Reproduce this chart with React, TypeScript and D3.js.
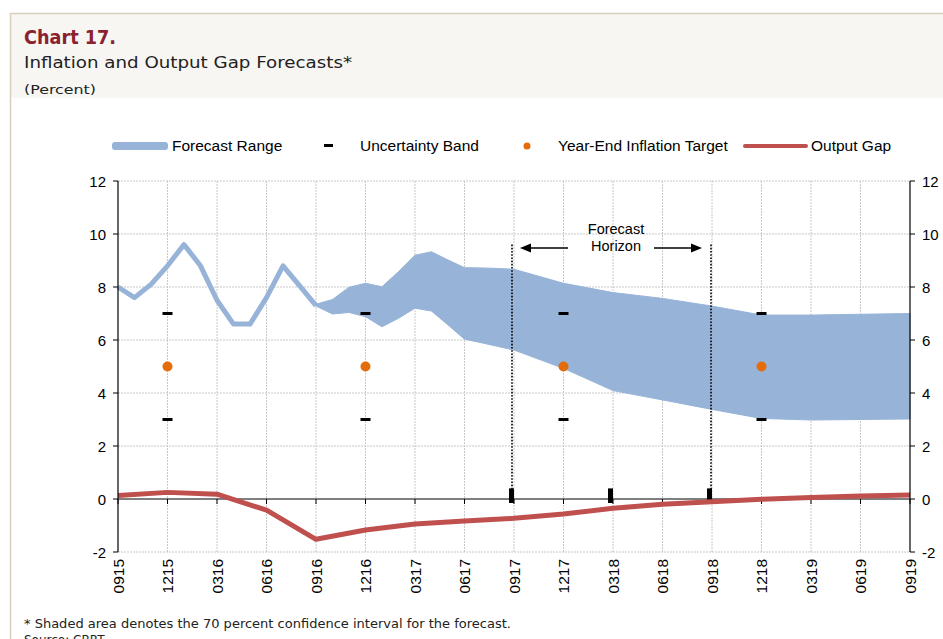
import React from "react";
import * as d3 from "d3";

// ---------- data ----------
const quarterLabels = ["0915","1215","0316","0616","0916","1216","0317","0617","0917","1217","0318","0618","0918","1218","0319","0619","0919"];
// monthly inflation history (month index 0 = 09/15)
const histMonths = [0,1,2,3,4,5,6,7,8,9,10,11,12];
const histInflation = [8.0,7.6,8.1,8.8,9.6,8.8,7.5,6.6,6.6,7.6,8.8,8.05,7.3];
// forecast range
const bandMonths = [12,13,14,15,16,17,18,19,20,21,22,23,24,27,30,33,36,39,42,45,48];
const bandUpper = [7.35,7.53,7.99,8.14,8.01,8.58,9.2,9.33,9.02,8.73,8.72,8.7,8.67,8.14,7.79,7.57,7.28,6.94,6.94,6.97,7.0];
const bandLower = [7.28,6.98,7.04,6.88,6.5,6.82,7.2,7.09,6.57,6.03,5.9,5.76,5.62,4.93,4.09,3.74,3.38,3.04,2.98,3.0,3.02];
// year-end targets and uncertainty band
const targetMonths = [3,15,27,39];
const targetValues = [5,5,5,5];
const uncUpper = [7,7,7,7];
const uncLower = [3,3,3,3];
// output gap (quarterly)
const outputGap = [0.13,0.25,0.18,-0.42,-1.52,-1.17,-0.94,-0.83,-0.73,-0.57,-0.35,-0.2,-0.1,-0.01,0.06,0.11,0.15];
// horizon markers
const horizonMarkMonths = [24,30,36];
const horizonLines = [24,36];
const yTicks = [-2,0,2,4,6,8,10,12];

const BLUE = "#97b4d8";
const RED = "#c0504d";
const ORANGE = "#e46c0a";
const AX = "Liberation Sans, Arial, sans-serif";
const GOTHIC = "DejaVu Sans, sans-serif";

export default function App() {
  const x = d3.scaleLinear().domain([0, 48]).range([118, 910]);
  const y = d3.scaleLinear().domain([-2, 12]).range([552, 181]);

  const histLine = d3.line<number>().x((_, i) => x(histMonths[i])).y((d) => y(d))(histInflation) || "";
  const bandArea = d3.area<number>()
    .x((_, i) => x(bandMonths[i]))
    .y0((_, i) => y(bandLower[i]))
    .y1((d) => y(d))(bandUpper) || "";
  const gapLine = d3.line<number>().x((_, i) => x(i * 3)).y((d) => y(d))(outputGap) || "";

  return (
    <svg width={943} height={639} style={{ position: "absolute", left: 0, top: 0, background: "#fff" }}>
      {/* header frame */}
      <rect x={11} y={14} width={932} height={84} fill="#f7f6f2" />
      <line x1={10} y1={13.5} x2={943} y2={13.5} stroke="#d9cfbf" strokeWidth={1.5} />
      <line x1={10.5} y1={13} x2={10.5} y2={639} stroke="#d9cfbf" strokeWidth={1.5} />
      <text x={24} y={44} fontFamily={GOTHIC} fontWeight="bold" fontSize={19} fill="#8b2030" textLength={92} lengthAdjust="spacingAndGlyphs">Chart 17.</text>
      <text x={24} y={68} fontFamily={GOTHIC} fontSize={16} fill="#222" textLength={328} lengthAdjust="spacingAndGlyphs">Inflation and Output Gap Forecasts*</text>
      <text x={24} y={94} fontFamily={GOTHIC} fontSize={13} fill="#222" textLength={72} lengthAdjust="spacingAndGlyphs">(Percent)</text>

      {/* grid */}
      {yTicks.filter((t) => t !== 0).map((t) => (
        <line key={"gy" + t} x1={x(0)} x2={x(48)} y1={y(t)} y2={y(t)} stroke="#c8c8c8" strokeDasharray="2,1" strokeWidth={1} />
      ))}
      {quarterLabels.map((_, i) => (i > 0 && i < 16 ? (
        <line key={"gx" + i} x1={x(i * 3)} x2={x(i * 3)} y1={y(12)} y2={y(-2)} stroke="#c8c8c8" strokeDasharray="2,1" strokeWidth={1} />
      ) : null))}

      {/* forecast range */}
      <path d={bandArea} fill={BLUE} stroke={BLUE} strokeWidth={1} strokeLinejoin="round" />
      <path d={histLine} fill="none" stroke={BLUE} strokeWidth={5} strokeLinejoin="round" />

      {/* zero line */}
      <line x1={x(0)} x2={x(48)} y1={y(0)} y2={y(0)} stroke="#000" strokeWidth={1.2} />
      {quarterLabels.map((_, i) => (
        <line key={"tx" + i} x1={x(i * 3)} x2={x(i * 3)} y1={y(0)} y2={y(0) + 5} stroke="#000" strokeWidth={1} />
      ))}

      {/* horizon dotted lines */}
      {horizonLines.map((m, i) => (
        <line key={"hl" + m} x1={x(m) - (i === 0 ? 2 : 1)} x2={x(m) - (i === 0 ? 2 : 1)} y1={y(9.6)} y2={y(0)} stroke="#000" strokeWidth={1.6} strokeDasharray="1.6,1.6" />
      ))}
      {horizonMarkMonths.map((m) => (
        <rect key={"hm" + m} x={x(m) - 5} y={y(0.4)} width={5} height={y(-0.15) - y(0.4)} fill="#000" />
      ))}

      {/* output gap */}
      <path d={gapLine} fill="none" stroke={RED} strokeWidth={5} strokeLinejoin="round" />

      {/* uncertainty band markers */}
      {targetMonths.map((m, i) => (
        <g key={"u" + m}>
          <rect x={x(m) - 5} y={y(uncUpper[i]) - 1.5} width={10} height={3} fill="#000" />
          <rect x={x(m) - 5} y={y(uncLower[i]) - 1.5} width={10} height={3} fill="#000" />
          <circle cx={x(m)} cy={y(targetValues[i])} r={5} fill={ORANGE} />
        </g>
      ))}

      {/* axes */}
      <line x1={x(0)} x2={x(0)} y1={y(12)} y2={y(-2)} stroke="#000" strokeWidth={1.2} />
      <line x1={x(48)} x2={x(48)} y1={y(12)} y2={y(-2)} stroke="#000" strokeWidth={1.2} />
      {yTicks.map((t) => (
        <g key={"yt" + t}>
          <line x1={x(0) - 5} x2={x(0)} y1={y(t)} y2={y(t)} stroke="#000" />
          <line x1={x(48)} x2={x(48) + 5} y1={y(t)} y2={y(t)} stroke="#000" />
          <text x={x(0) - 12} y={y(t) + 5.5} textAnchor="end" fontFamily={AX} fontSize={15} fill="#000">{t}</text>
          <text x={x(48) + 12} y={y(t) + 5.5} textAnchor="start" fontFamily={AX} fontSize={15} fill="#000">{t}</text>
        </g>
      ))}
      {quarterLabels.map((l, i) => (
        <text key={"xl" + l} transform={`translate(${x(i * 3) + 5.5},${y(-2) + 7}) rotate(-90)`} textAnchor="end" fontFamily={AX} fontSize={15.5} fill="#000">{l}</text>
      ))}

      {/* forecast horizon annotation */}
      <text x={616} y={234} textAnchor="middle" fontFamily={AX} fontSize={14.5} fill="#000">Forecast</text>
      <text x={616} y={251} textAnchor="middle" fontFamily={AX} fontSize={14.5} fill="#000">Horizon</text>
      <line x1={568} x2={528} y1={248} y2={248} stroke="#000" strokeWidth={1.5} />
      <path d="M520,248 L531,243.5 L531,252.5 Z" fill="#000" />
      <line x1={654} x2={694} y1={248} y2={248} stroke="#000" strokeWidth={1.5} />
      <path d="M702,248 L691,243.5 L691,252.5 Z" fill="#000" />

      {/* legend */}
      <rect x={112} y={142} width={56} height={8} rx={3} fill={BLUE} />
      <text x={172} y={151} fontFamily={AX} fontSize={15.5} fill="#000">Forecast Range</text>
      <rect x={324} y={144} width={9} height={3} fill="#000" />
      <text x={360} y={151} fontFamily={AX} fontSize={15.5} fill="#000">Uncertainty Band</text>
      <circle cx={527} cy={146} r={3.5} fill={ORANGE} />
      <text x={558} y={151} fontFamily={AX} fontSize={15.5} fill="#000">Year-End Inflation Target</text>
      <line x1={745} x2={806} y1={146} y2={146} stroke={RED} strokeWidth={4} strokeLinecap="round" />
      <text x={811} y={151} fontFamily={AX} fontSize={15.5} fill="#000">Output Gap</text>

      {/* footnotes */}
      <text x={24} y={628} fontFamily={GOTHIC} fontSize={12} fill="#222" textLength={487} lengthAdjust="spacingAndGlyphs">* Shaded area denotes the 70 percent confidence interval for the forecast.</text>
      <text x={24} y={644} fontFamily={GOTHIC} fontSize={12} fill="#222">Source: CBRT</text>
    </svg>
  );
}
